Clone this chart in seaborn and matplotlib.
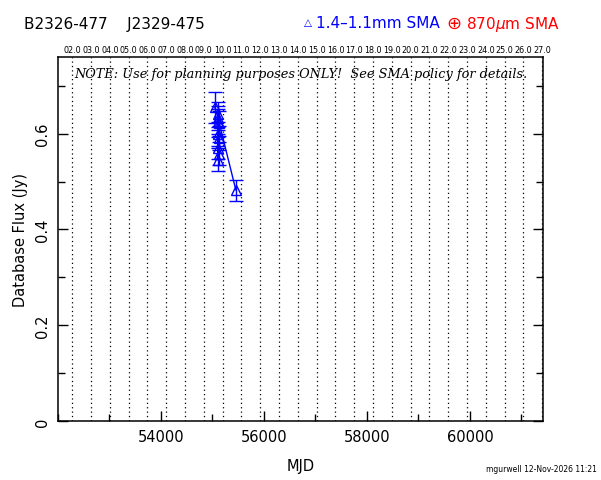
#!/usr/bin/env python
"""Light curve of B2326-477 / J2329-475 from the SMA calibrator list,
drawn in the style of the pgplot flux history figures.
"""
import matplotlib
matplotlib.use('Agg')
import matplotlib.pyplot as plt
import seaborn as sb
import pandas as pd
from matplotlib.ticker import MultipleLocator

# flux history, 1.4-1.1mm band
mjd = [55045, 55098, 55103, 55107, 55110, 55113, 55116, 55120, 55125, 55132, 55455]
flux = [0.655, 0.640, 0.632, 0.570, 0.545, 0.600, 0.625, 0.558, 0.590, 0.622, 0.482]
flux_err = [0.032, 0.026, 0.025, 0.024, 0.024, 0.025, 0.026, 0.024, 0.025, 0.026, 0.022]

# top axis: start of each year, labelled two-digit style
years = list(range(2002, 2028))
year_labels = ['%02d.0' % (y % 100) for y in years]

source_names = 'B2326-477    J2329-475'
note = 'NOTE: Use for planning purposes ONLY!  See SMA policy for details.'
stamp = 'mgurwell 12-Nov-2026 11:21'

blue = '#0000ff'
red = '#ff0000'


def year_to_mjd(year):
    return 51544.5 + (year - 2000) * 365.25


def main():
    df = pd.DataFrame({'mjd': mjd, 'flux': flux, 'err': flux_err})

    sb.set_style('ticks')
    plt.rcParams['font.family'] = ['DejaVu Sans']
    for key in ['text.color', 'axes.labelcolor', 'xtick.color', 'ytick.color']:
        plt.rcParams[key] = 'black'

    fig = plt.figure(figsize=(6.01, 4.81), dpi=100)
    ax = fig.add_axes([0.0965, 0.1227, 0.807, 0.7567])

    # dotted year markers
    year_mjd = [year_to_mjd(y) for y in years]
    for xm in year_mjd:
        ax.axvline(xm, color='black', linestyle=(0, (1, 2.5)), linewidth=0.9, zorder=1)

    ax.errorbar(df['mjd'], df['flux'], yerr=df['err'], fmt='none',
                ecolor=blue, elinewidth=1.0, capsize=5, capthick=1.0, zorder=3)
    sb.lineplot(data=df, x='mjd', y='flux', ax=ax, sort=False, estimator=None,
                color=blue, linewidth=1.0, marker='^', markersize=7,
                markerfacecolor='none', markeredgecolor=blue,
                markeredgewidth=1.0, zorder=4)

    ax.set_xlim(52000, 61420)
    ax.set_ylim(0, 0.76)
    ax.xaxis.set_major_locator(MultipleLocator(2000))
    ax.xaxis.set_minor_locator(MultipleLocator(1000))
    ax.yaxis.set_major_locator(MultipleLocator(0.2))
    ax.yaxis.set_minor_locator(MultipleLocator(0.1))
    ax.set_xticks([54000, 56000, 58000, 60000])
    ax.set_yticks([0, 0.2, 0.4, 0.6])
    ax.set_yticklabels(['0', '0.2', '0.4', '0.6'], rotation=90, va='center')
    ax.tick_params(which='both', direction='in', top=True, right=True,
                   labelsize=10.5, width=1.0, color='black', labelcolor='black', pad=6)
    ax.tick_params(which='major', length=7)
    ax.tick_params(which='minor', length=5)
    for side in ax.spines.values():
        side.set_linewidth(1.1)
        side.set_color('black')

    ax.set_xlabel('MJD', fontsize=10.5, labelpad=10, color='black')
    ax.set_ylabel('Database Flux (Jy)', fontsize=10.5, labelpad=5, color='black')

    # year labels along the top
    top = ax.twiny()
    top.set_xlim(ax.get_xlim())
    top.set_xticks(year_mjd)
    top.set_xticklabels(year_labels, fontsize=5.8, color='black')
    top.tick_params(axis='x', length=0, pad=2)
    for side in top.spines.values():
        side.set_visible(False)

    ax.text(0.5, 0.955, note, transform=ax.transAxes, ha='center', va='center',
            fontsize=9.3, style='italic', family='DejaVu Serif', color='black', zorder=5)

    fig.text(24 / 601, 1 - 24 / 481, source_names, fontsize=11, ha='left', va='center')
    fig.text(304 / 601, 1 - 23 / 481, '\u25b3', fontsize=7.5, color=blue, ha='left', va='center')
    fig.text(316 / 601, 1 - 24 / 481, '1.4\u20131.1mm SMA', fontsize=11, color=blue,
             ha='left', va='center')
    fig.text(446 / 601, 1 - 24 / 481, '\u2295', fontsize=13, color=red, ha='left', va='center')
    fig.text(466 / 601, 1 - 24 / 481, '870$\\mu$m SMA', fontsize=11, color=red,
             ha='left', va='center')
    fig.text(597 / 601, 1 - 470 / 481, stamp, fontsize=5.5, ha='right', va='center')

    plt.savefig('out.png', dpi=100)


if __name__ == '__main__':
    main()
